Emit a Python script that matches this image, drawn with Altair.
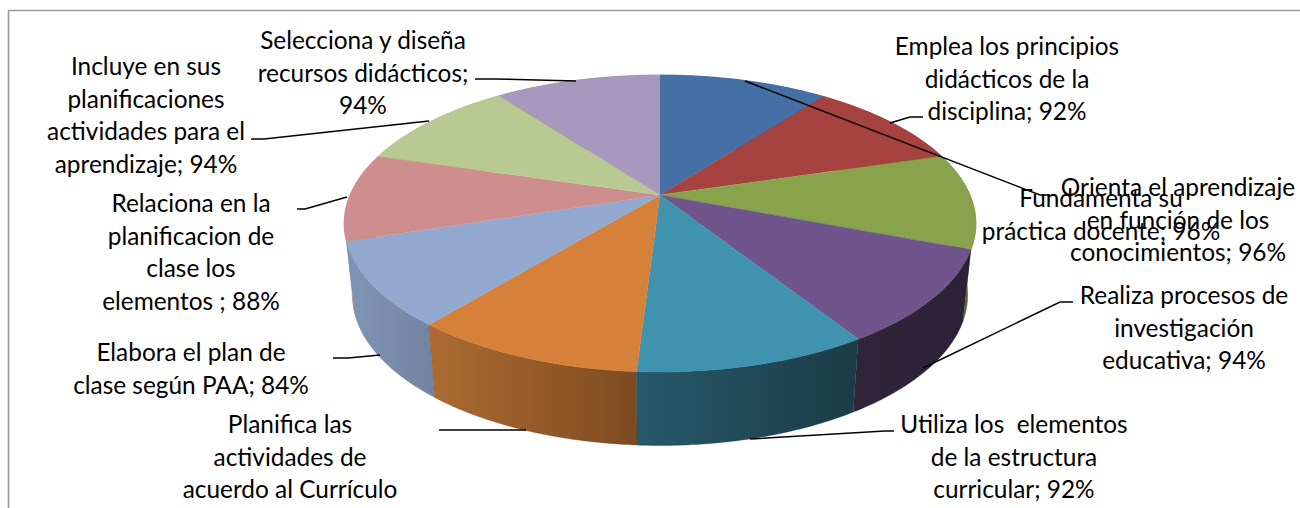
import math
import altair as alt
import pandas as pd

# Competency categories, clockwise from twelve o'clock
categories = [
    "Fundamenta", "Emplea", "Orienta", "Realiza", "Utiliza",
    "Planifica", "Elabora", "Relaciona", "Incluye", "Selecciona",
]
values = [96, 92, 96, 94, 92, 92, 84, 88, 94, 94]

top_colors = ["#4470a5", "#a64240", "#88a34c", "#70558c", "#3f93ae",
              "#d5813a", "#93a8cf", "#ce8e8d", "#b8ca91", "#a998bd"]
side_colors = [
    ("#2f4d73", "#2f4d73"), ("#6f2c2b", "#6f2c2b"), ("#5f7230", "#56682c"),
    ("#2e2539", "#2b2238"), ("#27596a", "#1b3b46"), ("#ad6b31", "#7d4b21"),
    ("#8095b6", "#72839f"), ("#c48685", "#c48685"), ("#8fa06a", "#8fa06a"),
    ("#7d6e90", "#7d6e90"),
]

label_lines = [
    ["Fundamenta su", "práctica docente; 96%"],
    ["Emplea los principios", "didácticos de la", "disciplina; 92%"],
    ["Orienta el aprendizaje", "en función de los", "conocimientos; 96%"],
    ["Realiza procesos de", "investigación", "educativa; 94%"],
    ["Utiliza los\u00a0 elementos", "de la estructura", "curricular; 92%"],
    ["Planifica las", "actividades de", "acuerdo al Currículo"],
    ["Elabora el plan de", "clase según PAA; 84%"],
    ["Relaciona en la", "planificacion de", "clase los", "elementos ; 88%"],
    ["Incluye en sus", "planificaciones", "actividades para el", "aprendizaje; 94%"],
    ["Selecciona y diseña", "recursos didácticos;", "94%"],
]
# Centre and first baseline of each label block
label_anchor = [(1101, 207), (1007, 55), (1178, 196), (1184, 304), (1014, 433),
                (290, 433), (191, 361), (191, 212), (146, 75), (363, 49)]
leaders = [
    [(745, 81), (1040, 195), (1050, 195)],
    [(890, 123), (910, 117), (923, 117)],
    [],
    [(923, 368), (1060, 302), (1073, 302)],
    [(750, 439), (885, 431), (894, 431)],
    [(526, 430), (439, 430)],
    [(380, 355), (348, 358), (333, 358)],
    [(347, 197), (305, 209), (297, 209)],
    [(429, 121), (264, 139), (251, 139)],
    [(576, 81), (495, 79), (475, 79)],
]

W, H = 1300, 508
LINE_H = 32.6
CX = 660
TOP = dict(cy=195, rx=310, ry=143)
BOTTOM = dict(cy=266, rx=302, ry=145)
K = 0.192  # perspective strength of the tilted disc


def project(deg, disc):
    t = math.radians(deg)
    u, v = math.sin(t), -math.cos(t)
    w = 1 / (1 - K * v)
    return CX + disc["rx"] * u * w, disc["cy"] + disc["ry"] * v * w


def arc(a0, a1, disc):
    n = max(2, int(abs(a1 - a0) * 2))
    return [project(a0 + (a1 - a0) * i / n, disc) for i in range(n + 1)]


x_scale = alt.Scale(domain=[0, W], nice=False, zero=False)
y_scale = alt.Scale(domain=[H, 0], nice=False, zero=False)


def path_layer(points, **mark):
    df = pd.DataFrame(points, columns=["x", "y"]).assign(seq=range(len(points)))
    return alt.Chart(df).mark_line(**mark).encode(
        x=alt.X("x:Q", scale=x_scale, axis=None),
        y=alt.Y("y:Q", scale=y_scale, axis=None),
        order="seq:Q",
    )


total = sum(values)
edges = [0.0]
for val in values:
    edges.append(edges[-1] + 360 * val / total)

layers = []

# Rim segments, painted from the back of the disc towards the viewer
rim_order = sorted(range(len(values)),
                   key=lambda i: -abs(((edges[i] + edges[i + 1]) / 2) - 180))
for i in rim_order:
    a0, a1 = edges[i], edges[i + 1]
    outline = arc(a0, a1, TOP) + arc(a1, a0, BOTTOM)
    c0, c1 = side_colors[i]
    # the rim runs right-to-left across the front half, so the gradient follows x
    fill = alt.Gradient(
        gradient="linear", x1=0, x2=1, y1=0, y2=0,
        stops=[alt.GradientStop(offset=0, color=c0), alt.GradientStop(offset=1, color=c1)],
    )
    layers.append(path_layer(outline, fill=fill, stroke=c1, strokeWidth=0.4))

# Top faces of the slices
for i in range(len(values)):
    outline = [(CX, TOP["cy"])] + arc(edges[i], edges[i + 1], TOP)
    layers.append(path_layer(outline, fill=top_colors[i], stroke=top_colors[i], strokeWidth=0.5))

# Chart frame, open on the right and bottom
layers.append(path_layer([(8.5, H), (8.5, 10.5), (W, 10.5)], stroke="#9a9a9a", strokeWidth=1.6))

# Leader lines
for pts in leaders:
    if pts:
        layers.append(path_layer(pts, stroke="#000000", strokeWidth=1.5))

# Data labels, one row per text line
rows = []
for lines, (ax, ay) in zip(label_lines, label_anchor):
    for j, line in enumerate(lines):
        rows.append({"x": ax, "y": ay + j * LINE_H, "line": line})
labels = alt.Chart(pd.DataFrame(rows)).mark_text(
    font="Lato", fontSize=24.4, align="center", baseline="alphabetic", color="#000000"
).encode(
    x=alt.X("x:Q", scale=x_scale, axis=None),
    y=alt.Y("y:Q", scale=y_scale, axis=None),
    text="line:N",
)
layers.append(labels)

chart = alt.layer(*layers).properties(
    width=W, height=H, padding=0,
    autosize=alt.AutoSizeParams(type="none"),
    background="#ffffff",
).configure_view(stroke=None)

chart.save("out.html", embed_options={"renderer": "svg", "actions": False})
